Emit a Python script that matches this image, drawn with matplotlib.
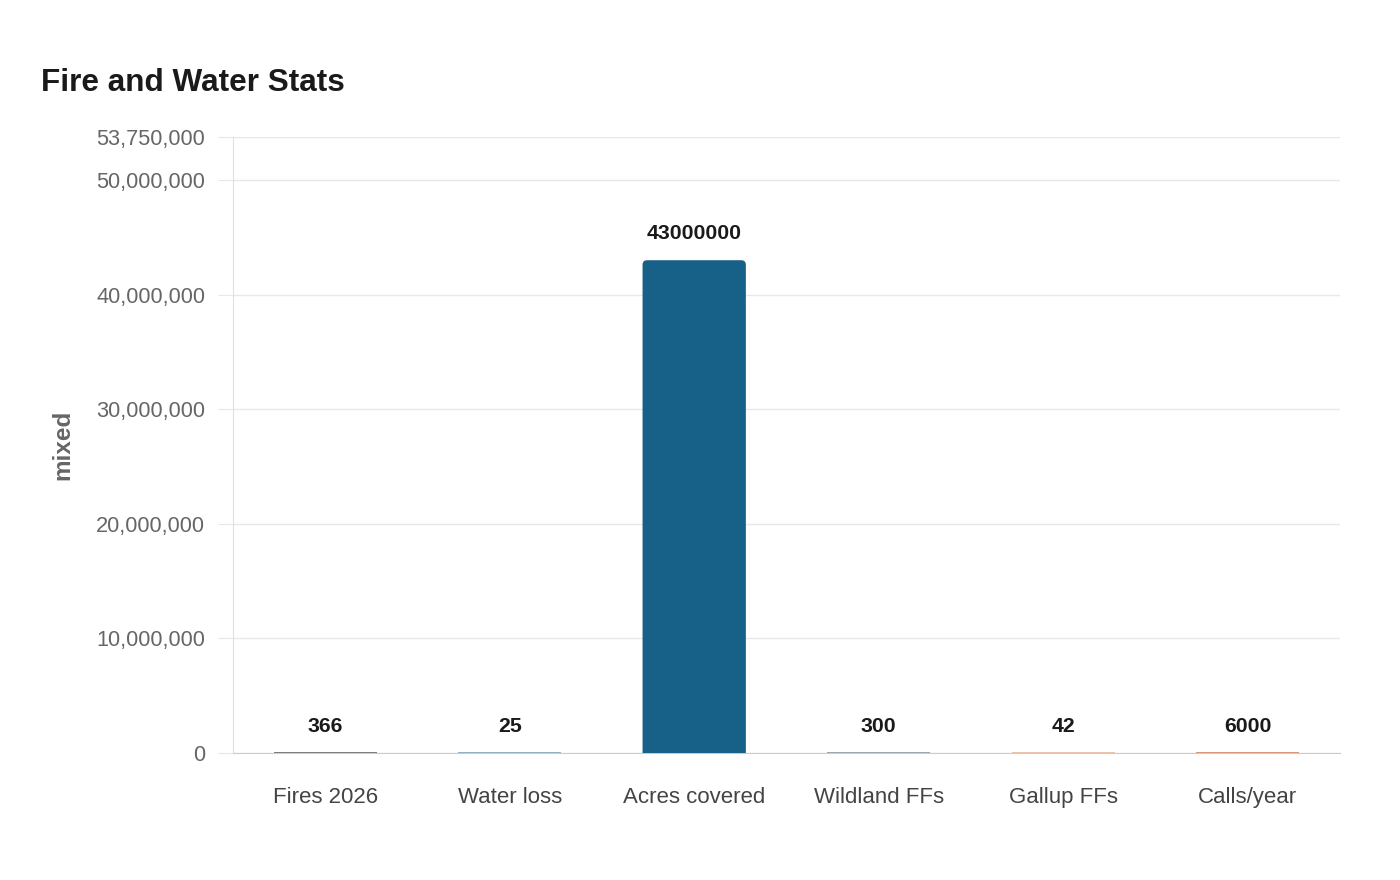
import numpy as np
import matplotlib
matplotlib.use("Agg")
import matplotlib.pyplot as plt
from matplotlib.ticker import FuncFormatter
from matplotlib.patches import FancyBboxPatch

plt.rcParams['font.family'] = ['Liberation Sans', 'DejaVu Sans']

categories = ['Fires 2026', 'Water loss', 'Acres covered', 'Wildland FFs', 'Gallup FFs', 'Calls/year']
values = [366, 25, 43000000, 300, 42, 6000]
colors = ['#7a7a7a', '#93afbd', '#176087', '#9aa6ad', '#ecc0a8', '#d99474']
yticks = [0, 10000000, 20000000, 30000000, 40000000, 50000000, 53750000]


def main():
    fig = plt.figure(figsize=(14, 8.8), dpi=100)
    ax = fig.add_axes([0.1664, 0.1443, 0.7907, 0.7])

    x = np.arange(len(categories))
    ymax = 53750000
    bars = ax.bar(x, values, width=0.56, color=colors, edgecolor=colors, linewidth=1.4, zorder=3)

    # rounded top corners for the bars that are tall enough to show them
    rx = 0.025
    ry = rx * (ymax / 616.0) / (6.0 / 1107.0)
    for b in bars:
        if b.get_height() > 2 * ry:
            x0, w, h = b.get_x(), b.get_width(), b.get_height()
            p = FancyBboxPatch((x0, -ry), w, h + ry,
                               boxstyle='round,pad=0,rounding_size={}'.format(rx),
                               mutation_aspect=ry / rx, facecolor=b.get_facecolor(),
                               edgecolor='none', zorder=3)
            b.set_visible(False)
            ax.add_patch(p)

    for xi, v in zip(x, values):
        ax.annotate(str(v), (xi, v), xytext=(0, 19), textcoords='offset points',
                    ha='center', va='center', fontsize=15.3, fontweight='bold', color='#1a1a1a')

    ax.set_xlim(-0.5, len(categories) - 0.5)
    ax.set_ylim(0, ymax)
    ax.set_yticks(yticks)
    ax.yaxis.set_major_formatter(FuncFormatter(lambda v, p: '{:,.0f}'.format(v)))
    ax.set_xticks(x)
    ax.set_xticklabels(categories)

    ax.grid(axis='y', color='#e8e8e8', linewidth=1, zorder=0)
    ax.tick_params(axis='y', length=11, color='#e8e8e8', labelsize=15.7, labelcolor='#666666', pad=9)
    ax.tick_params(axis='x', length=0, labelsize=16, labelcolor='#444444', pad=24.5)

    for s in ['top', 'right']:
        ax.spines[s].set_visible(False)
    ax.spines['left'].set_color('#e0e0e0')
    ax.spines['bottom'].set_color('#cccccc')

    ax.set_ylabel('mixed', fontsize=17.5, fontweight='bold', color='#666666', labelpad=16)
    fig.text(0.029, 0.906, 'Fire and Water Stats', fontsize=22.7, fontweight='bold',
             color='#1a1a1a', ha='left', va='center')

    fig.savefig('out.png', dpi=100, facecolor='white')


if __name__ == "__main__":
    main()
